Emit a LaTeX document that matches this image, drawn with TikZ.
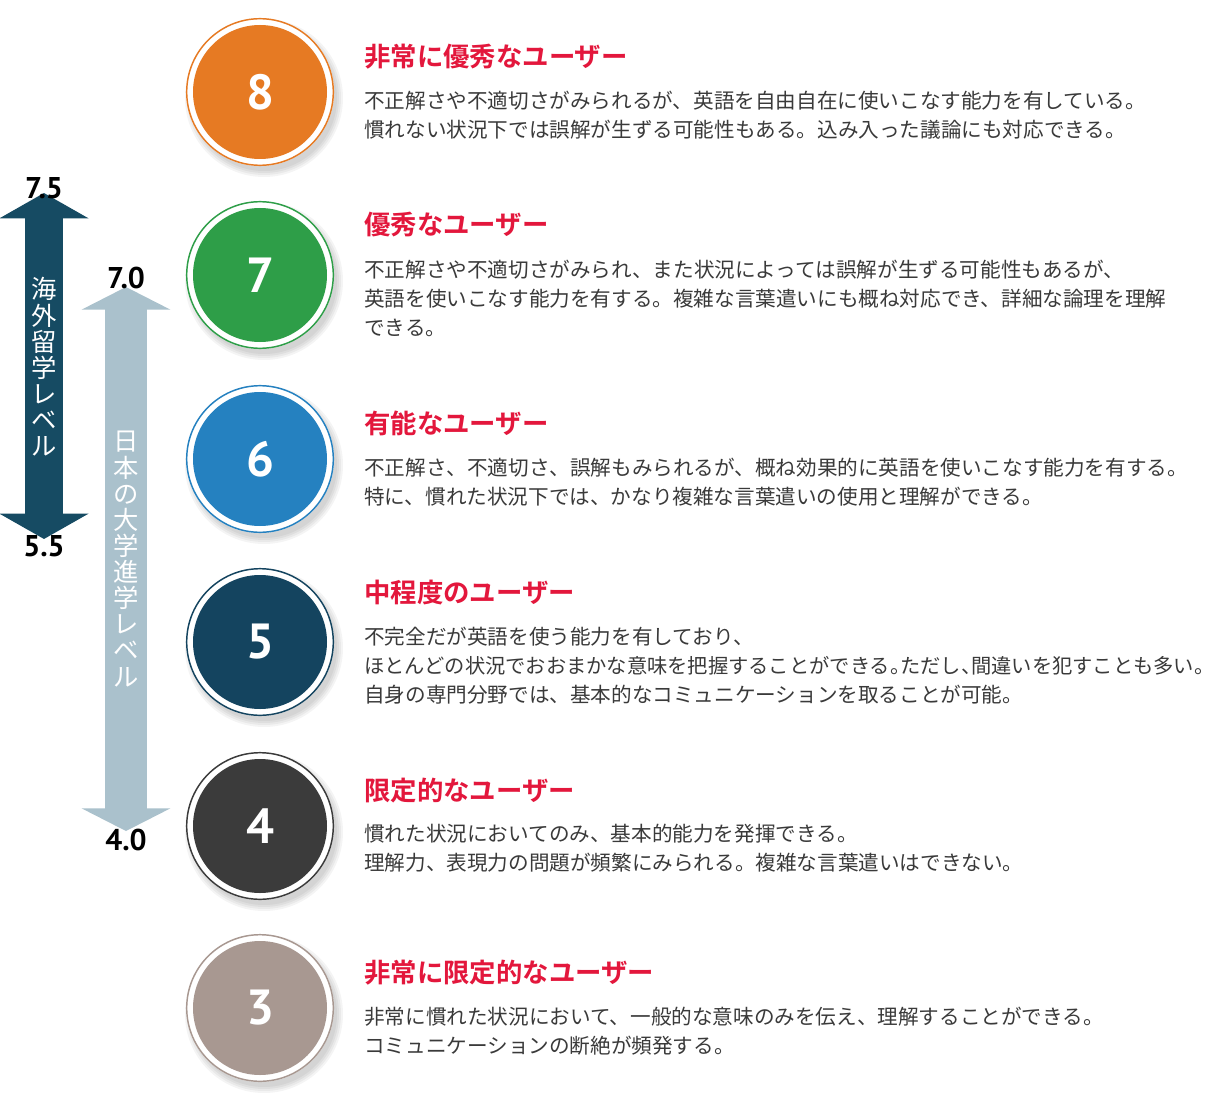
\documentclass[tikz,border=0pt]{standalone}
\usepackage{fontspec}
\usetikzlibrary{arrows.meta}
\newfontfamily\jp{Noto Sans CJK JP}[BoldFont={Noto Sans CJK JP Bold}]
\newfontfamily\numfont{PT Sans}
\definecolor{col8}{HTML}{E67A23}
\definecolor{col7}{HTML}{2E9E48}
\definecolor{col6}{HTML}{2581C0}
\definecolor{col5}{HTML}{14445F}
\definecolor{col4}{HTML}{3B3B3B}
\definecolor{col3}{HTML}{A89891}
\definecolor{darkarr}{HTML}{164B63}
\definecolor{lightarr}{HTML}{AAC1CC}
\definecolor{titred}{HTML}{E3173C}
\definecolor{bodyc}{HTML}{3A3A3A}
\begin{document}
\begin{tikzpicture}[x=0.75pt,y=-0.75pt,
  ring/.style={draw=#1, line width=1.1pt},
  disc/.style={circle, fill=#1, draw=none, minimum size=100.5pt, inner sep=0pt, text=white,
    font=\numfont\bfseries\fontsize{37}{37}\selectfont},
  shadecirc/.style={fill=black, opacity=0.045},
  ttl/.style={anchor=base west, inner sep=0pt, text=titred, font=\jp\bfseries\fontsize{19.8}{19.8}\selectfont},
  body/.style={anchor=base west, inner sep=0pt, text=bodyc, font=\jp\fontsize{15.45}{15.45}\selectfont},
  val/.style={inner sep=0pt, text=black, font=\numfont\bfseries\fontsize{22.5}{22.5}\selectfont},
  vtext/.style={align=center, inner sep=0pt, text=white, font=\jp\fontsize{19}{19.6}\selectfont},
  bigarrow/.style={line width=#1, line cap=butt},
]
\useasboundingbox (0,0) rectangle (1220,1116);
\fill[white] (0,0) rectangle (1220,1116);

% level circles
\foreach \n/\yy/\cc in {8/92/col8,7/275/col7,6/459/col6,5/642/col5,4/826/col4,3/1008/col3}{
  \foreach \r in {79,77,75,73} \fill[shadecirc] (264,\yy+6) circle[radius=\r];
  \fill[white] (260,\yy) circle[radius=74];
  \node[disc=\cc] (n\n) at (260,\yy) {\n};
  \draw[ring=\cc] (n\n.center) circle[radius=73.3];
}

% level arrows
\coordinate (dtop) at (44,193);
\coordinate (dbot) at (44,539);
\draw[darkarr, bigarrow=28.5pt, {Triangle[width=66pt,length=19pt]}-{Triangle[width=66pt,length=19pt]}] (dtop) -- (dbot);
\coordinate (ltop) at (126,287);
\coordinate (lbot) at (126,831);
\draw[lightarr, bigarrow=31.5pt, {Triangle[width=66pt,length=17pt]}-{Triangle[width=66pt,length=17pt]}] (ltop) -- (lbot);

\node[vtext] (vt1) at (44,367) {海\\外\\留\\学\\レ\\ベ\\ル};
\node[vtext] (vt2) at (126,559) {日\\本\\の\\大\\学\\進\\学\\レ\\ベ\\ル};

\node[val] (v75) at (44,188) {7.5};
\node[val] (v55) at (44,546) {5.5};
\node[val] (v70) at (126,278) {7.0};
\node[val] (v40) at (126,840) {4.0};

% texts
\node[ttl] (t8) at (364,67) {非常に優秀なユーザー};
\node[body] (b8a) at (364,109) {不正解さや不適切さがみられるが、英語を自由自在に使いこなす能力を有している。};
\node[body] (b8b) at (364,138) {慣れない状況下では誤解が生ずる可能性もある。込み入った議論にも対応できる。};

\node[ttl] (t7) at (364,235) {優秀なユーザー};
\node[body] (b7a) at (364,277) {不正解さや不適切さがみられ、また状況によっては誤解が生ずる可能性もあるが、};
\node[body] (b7b) at (364,306) {英語を使いこなす能力を有する。複雑な言葉遣いにも概ね対応でき、詳細な論理を理解};
\node[body] (b7c) at (364,335) {できる。};

\node[ttl] (t6) at (364,433) {有能なユーザー};
\node[body] (b6a) at (364,475) {不正解さ、不適切さ、誤解もみられるが、概ね効果的に英語を使いこなす能力を有する。};
\node[body] (b6b) at (364,504) {特に、慣れた状況下では、かなり複雑な言葉遣いの使用と理解ができる。};

\node[ttl] (t5) at (364,602) {中程度のユーザー};
\node[body] (b5a) at (364,644) {不完全だが英語を使う能力を有しており、};
\node[body, font=\jp\fontsize{15.2}{15.2}\selectfont] (b5b) at (364,673) {ほとんどの状況でおおまかな意味を把握することができる。\kern-0.5em ただし、\kern-0.5em 間違いを犯すことも多い。\kern-0.5em};
\node[body] (b5c) at (364,702) {自身の専門分野では、基本的なコミュニケーションを取ることが可能。};

\node[ttl] (t4) at (364,800) {限定的なユーザー};
\node[body] (b4a) at (364,841) {慣れた状況においてのみ、基本的能力を発揮できる。};
\node[body] (b4b) at (364,870) {理解力、表現力の問題が頻繁にみられる。複雑な言葉遣いはできない。};

\node[ttl] (t3) at (364,982) {非常に限定的なユーザー};
\node[body] (b3a) at (364,1024) {非常に慣れた状況において、一般的な意味のみを伝え、理解することができる。};
\node[body] (b3b) at (364,1053) {コミュニケーションの断絶が頻発する。};
\end{tikzpicture}
\end{document}
